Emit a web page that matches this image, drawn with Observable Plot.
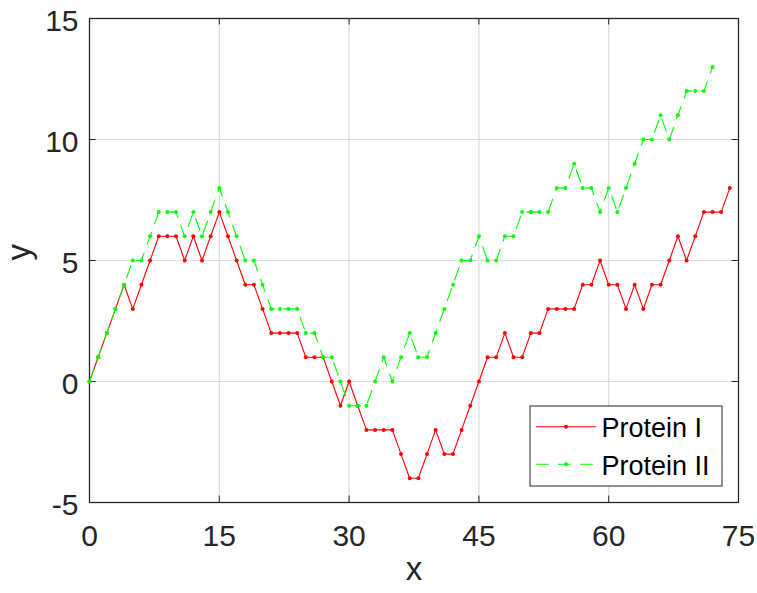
<!DOCTYPE html>
<html>
<head>
<meta charset="utf-8">
<script src="https://cdn.jsdelivr.net/npm/d3@7"></script>
<script src="https://cdn.jsdelivr.net/npm/@observablehq/plot@0.6"></script>
<style>
  html, body { margin: 0; padding: 0; background: #fff; }
  #chart { position: relative; width: 757px; height: 593px; }
  svg { font-family: "Liberation Sans", Arial, Helvetica, sans-serif; }
</style>
</head>
<body>
<div id="chart"></div>
<script>
// ---- data ----
const seriesNames = ["Protein I", "Protein II"];
const seriesColors = ["#ff0000", "#00ff00"];
const seriesDash = [null, "13,9"];
const proteinI = [0,1,2,3,4,3,4,5,6,6,6,5,6,5,6,7,6,5,4,4,3,2,2,2,2,1,1,1,0,-1,0,-1,-2,-2,-2,-2,-3,-4,-4,-3,-2,-3,-3,-2,-1,0,1,1,2,1,1,2,2,3,3,3,3,4,4,5,4,4,3,4,3,4,4,5,6,5,6,7,7,7,8];
const proteinII = [0,1,2,3,4,5,5,6,7,7,7,6,7,6,7,8,7,6,5,5,4,3,3,3,3,2,2,1,1,0,-1,-1,-1,0,1,0,1,2,1,1,2,3,4,5,5,6,5,5,6,6,7,7,7,7,8,8,9,8,8,7,8,7,8,9,10,10,11,10,11,12,12,12,13];
const xTicks = [0, 15, 30, 45, 60, 75];
const yTicks = [-5, 0, 5, 10, 15];
const xGrid = [15, 30, 45, 60];
const yGrid = [0, 5, 10];
const xLabel = "x";
const yLabel = "y";

const rowsI = proteinI.map((y, i) => ({x: i, y}));
const rowsII = proteinII.map((y, i) => ({x: i, y}));

const W = 757, H = 593;
const mL = 89, mR = 19, mT = 18, mB = 91;
const innerW = W - mL - mR, innerH = H - mT - mB;
const tickLen = 6.5;
const axisColor = "#262626";

const chart = Plot.plot({
  width: W,
  height: H,
  marginLeft: mL,
  marginRight: mR,
  marginTop: mT,
  marginBottom: mB,
  x: {domain: [0, 75]},
  y: {domain: [-5, 15]},
  style: {fontFamily: '"Liberation Sans", Arial, Helvetica, sans-serif', background: "#fff", color: axisColor},
  marks: [
    Plot.gridX(xGrid, {stroke: "#dcdcdc", strokeOpacity: 1, strokeWidth: 1.2}),
    Plot.gridY(yGrid, {stroke: "#dcdcdc", strokeOpacity: 1, strokeWidth: 1.2}),
    // inward tick marks on all four sides
    Plot.tickX(xTicks, {x: d => d, stroke: axisColor, strokeWidth: 1, insetTop: innerH - tickLen}),
    Plot.tickX(xTicks, {x: d => d, stroke: axisColor, strokeWidth: 1, insetBottom: innerH - tickLen}),
    Plot.tickY(yTicks, {y: d => d, stroke: axisColor, strokeWidth: 1, insetRight: innerW - tickLen}),
    Plot.tickY(yTicks, {y: d => d, stroke: axisColor, strokeWidth: 1, insetLeft: innerW - tickLen}),
    Plot.axisX(xTicks, {tickSize: 0, tickPadding: 22, fontSize: 30, label: null, tickFormat: d => String(d), fill: axisColor}),
    Plot.axisY(yTicks, {tickSize: 0, tickPadding: 11, fontSize: 30, label: null, tickFormat: d => String(d), fill: axisColor, dy: 3}),
    Plot.text([xLabel], {text: d => d, frameAnchor: "bottom", dy: 77.5, fontSize: 33, fill: axisColor}),
    Plot.text([yLabel], {text: d => d, frameAnchor: "left", dx: -70, rotate: -90, fontSize: 33, fill: axisColor}),
    Plot.frame({stroke: axisColor, strokeWidth: 1.3}),
    Plot.line(rowsI, {x: "x", y: "y", stroke: seriesColors[0], strokeWidth: 1.1}),
    Plot.dot(rowsI, {x: "x", y: "y", r: 2, fill: seriesColors[0], stroke: null}),
    Plot.line(rowsII, {x: "x", y: "y", stroke: seriesColors[1], strokeWidth: 1.1, strokeDasharray: seriesDash[1]}),
    Plot.dot(rowsII, {x: "x", y: "y", r: 2, fill: seriesColors[1], stroke: null})
  ]
});

document.getElementById("chart").appendChild(chart);

// ---- legend (inside the axes, lower right) ----
const svg = d3.select(chart);
const lg = svg.append("g").attr("class", "legend").attr("text-anchor", "start");
const box = {x: 530, y: 406, w: 192, h: 80};
lg.append("rect")
  .attr("x", box.x).attr("y", box.y).attr("width", box.w).attr("height", box.h)
  .attr("fill", "#fff").attr("stroke", axisColor).attr("stroke-width", 1);
const rowY = [426.8, 464.3];
seriesNames.forEach((name, i) => {
  const y = rowY[i];
  lg.append("line")
    .attr("x1", 536).attr("x2", 596).attr("y1", y).attr("y2", y)
    .attr("stroke", seriesColors[i]).attr("stroke-width", 1.1)
    .attr("stroke-dasharray", seriesDash[i] ? seriesDash[i] : null);
  lg.append("circle").attr("cx", 566).attr("cy", y).attr("r", 2).attr("fill", seriesColors[i]);
  lg.append("text")
    .attr("x", 601.5).attr("y", y).attr("dy", "0.39em")
    .attr("text-anchor", "start")
    .attr("font-size", 27).attr("fill", "#000")
    .text(name);
});
</script>
</body>
</html>
